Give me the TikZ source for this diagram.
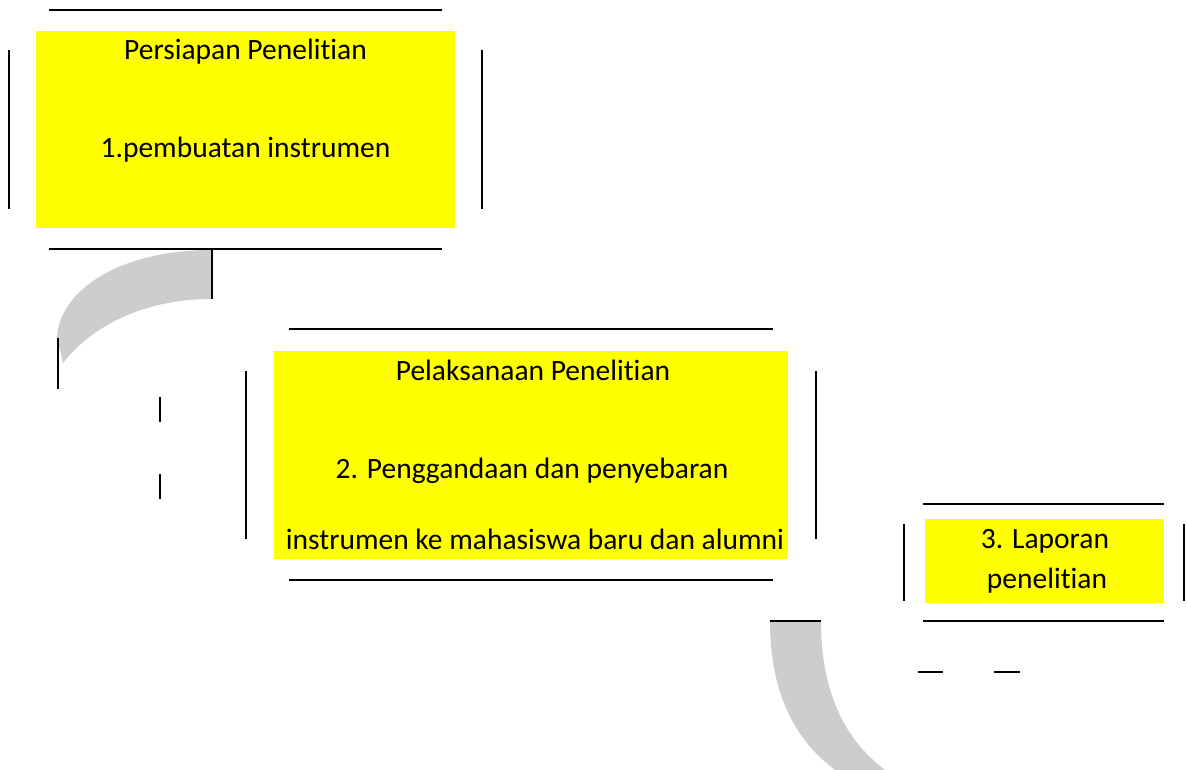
\documentclass[tikz,border=0pt]{standalone}
\usepackage{fontspec}
\setmainfont{Carlito}[RawFeature={-liga;-clig;-dlig}]
\definecolor{yel}{RGB}{255,255,0}
\definecolor{band}{RGB}{205,205,205}
\begin{document}
\begin{tikzpicture}[x=1pt,y=-1pt,
  rule/.style={line width=1.6pt, black},
  ybox/.style={fill=yel, draw=none, inner sep=0pt, outer sep=0pt},
  lbl/.style={anchor=base, inner sep=0pt, font=\fontsize{29.5}{34}\selectfont},
  grayband/.style={fill=band, draw=none}]
\useasboundingbox (0,0) rectangle (1187,770);
% yellow boxes
\node[ybox, minimum width=419pt, minimum height=197pt] (b1) at (245.5,129.5) {};
\node[ybox, minimum width=514pt, minimum height=208pt] (b2) at (531,455) {};
\node[ybox, minimum width=239pt, minimum height=84pt] (b3) at (1044.5,561) {};
% texts
\node[lbl] (t1a) at (245.5,60) {Persiapan Penelitian};
\node[lbl] (t1b) at (245.5,158) {1.pembuatan instrumen};
\node[lbl] (t2a) at (533,380) {Pelaksanaan Penelitian};
\node[lbl] (t2b) at (532,478) {2. Penggandaan dan penyebaran};
\node[lbl] (t2c) at (535,549) {instrumen ke mahasiswa baru dan alumni};
\node[lbl] (t3a) at (1045,548) {3. Laporan};
\node[lbl] (t3b) at (1047,588) {penelitian};
% curved gray arrows
\coordinate (a1top) at (211,250);
\coordinate (a1in) at (211,299);
\coordinate (a1tip) at (63,363);
\coordinate (a1out) at (57,337);
\fill[grayband] (a1top) .. controls (120,250) and (60,290) .. (a1out) -- (a1tip)
  .. controls (95,322) and (150,299) .. (a1in) -- cycle;
\begin{scope}
\clip (0,0) rectangle (1187,770);
\coordinate (a2l) at (770,621);
\coordinate (a2r) at (821,621);
\fill[grayband] (a2l) .. controls (770,700) and (800,750) .. (850,780)
  -- (900,780) .. controls (850,750) and (821,700) .. (a2r) -- cycle;
\end{scope}
% frame lines box 1
\draw[rule] (49,10) -- (442,10);
\draw[rule] (49,249) -- (442,249);
\draw[rule] (9,50) -- (9,209);
\draw[rule] (482,50) -- (482,209);
% frame lines box 2
\draw[rule] (289,329) -- (773,329);
\draw[rule] (289,580) -- (773,580);
\draw[rule] (246,371) -- (246,539);
\draw[rule] (816,371) -- (816,539);
% frame lines box 3
\draw[rule] (923,504) -- (1164,504);
\draw[rule] (923,621) -- (1164,621);
\draw[rule] (904,524) -- (904,601);
\draw[rule] (1184,524) -- (1184,601);
\draw[rule] (918,672) -- (943,672);
\draw[rule] (994,672) -- (1020,672);
% other strokes
\draw[rule] (212,249) -- (212,299);
\draw[rule] (58,338) -- (58,389);
\draw[rule] (160,397) -- (160,422);
\draw[rule] (160,474) -- (160,499);
\draw[rule] (a2l) -- (a2r);
\end{tikzpicture}
\end{document}
